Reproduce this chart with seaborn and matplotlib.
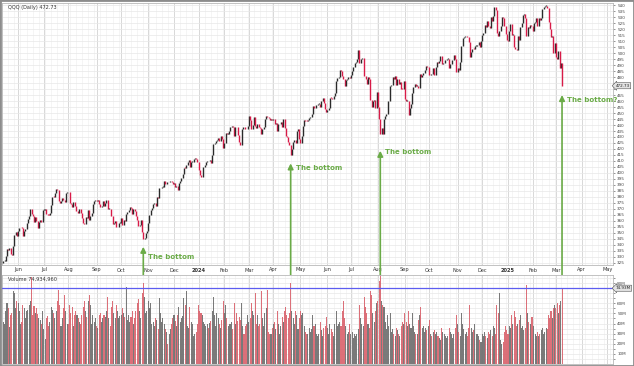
import matplotlib
matplotlib.use("Agg")
import matplotlib.pyplot as plt
import matplotlib.transforms as mtransforms
from matplotlib.patches import Rectangle
import numpy as np
import pandas as pd
import seaborn as sns

# Month axis: trading days per month, starting May 15 2023 (partial month)
month_names = ["May", "Jun", "Jul", "Aug", "Sep", "Oct", "Nov", "Dec",
               "2024", "Feb", "Mar", "Apr", "May", "Jun", "Jul", "Aug", "Sep", "Oct", "Nov", "Dec",
               "2025", "Feb", "Mar", "Apr", "May"]
month_days = [12, 21, 20, 23, 20, 22, 21, 20,
              21, 20, 20, 22, 22, 19, 22, 22, 20, 23, 20, 21,
              20, 19, 21, 21]

first_open = 324.8

# QQQ daily closes
close_2023 = [
    326.6, 326.8, 330.9, 337.0, 335.6, 337.1, 332.8, 331.5, 339.3, 348.4, 350.6, 347.5,
    351.4, 353.9, 354.3, 354.0, 347.2, 351.4, 353.3, 358.6, 361.6, 364.3, 369.7, 366.0, 364.3, 359.0, 363.0, 359.7, 353.8, 359.5, 360.4, 359.2, 369.4,
    369.5, 369.7, 366.1, 365.1, 365.0, 367.0, 373.0, 380.1, 380.0, 383.7, 386.4, 386.0, 376.8, 375.2, 377.0, 379.0, 377.8, 376.0, 383.7, 384.5,
    383.8, 375.0, 374.1, 372.0, 375.6, 372.6, 368.0, 368.6, 366.3, 370.3, 366.3, 362.6, 358.2, 357.8, 363.0, 362.5, 368.8, 360.8, 364.0, 366.8, 374.5, 376.5, 377.6,
    376.9, 377.6, 374.4, 371.8, 372.3, 376.6, 372.8, 374.6, 377.6, 370.0, 370.3, 369.6, 364.3, 357.8, 358.0, 359.6, 354.6, 355.3, 358.2, 358.3,
    362.6, 356.3, 361.1, 360.0, 365.8, 367.5, 369.1, 371.5, 370.6, 365.4, 369.6, 368.6, 364.0, 360.8, 355.5, 356.8, 360.5, 351.2, 344.6, 346.0, 350.0, 351.8,
    358.3, 364.8, 369.3, 370.8, 374.2, 374.8, 372.2, 380.3, 379.3, 387.1, 387.7, 388.6, 388.6, 393.4, 391.0, 392.8, 392.3, 392.3, 393.6, 392.7, 391.0,
    392.0, 388.0, 389.0, 386.0, 391.6, 393.5, 395.5, 399.3, 404.5, 404.4, 406.6, 409.4, 411.2, 404.7, 409.4, 409.5, 411.6, 412.0, 411.5, 409.5,
]
close_2024 = [
    402.6, 398.5, 396.3, 396.9, 405.4, 406.3, 409.1, 410.4, 409.6, 410.9, 408.5, 414.6, 423.8, 425.0, 426.3, 427.7, 429.3, 426.4, 430.7, 428.3, 420.6,
    425.4, 433.1, 432.7, 432.8, 435.1, 438.0, 439.5, 438.4, 431.2, 438.6, 438.0, 431.8, 425.8, 423.6, 436.4, 438.6, 438.0, 436.5, 436.4, 439.0,
    447.1, 444.0, 436.8, 439.7, 446.6, 439.0, 437.4, 441.2, 438.3, 437.7, 432.7, 436.4, 438.5, 444.7, 447.9, 446.9, 445.5, 444.1, 445.1, 444.0,
    444.9, 440.6, 441.9, 435.3, 440.5, 441.0, 442.4, 438.0, 444.6, 437.7, 430.6, 430.2, 425.8, 423.4, 414.7, 419.6, 425.8, 427.3, 424.6, 435.0, 436.7, 428.0,
    425.4, 431.2, 439.3, 444.3, 443.6, 443.3, 444.2, 445.7, 446.7, 449.4, 455.6, 453.8, 453.9, 456.8, 457.6, 457.9, 455.0, 459.9, 462.1, 458.4, 453.4, 450.7,
    452.5, 453.9, 462.8, 462.5, 462.0, 463.9, 466.4, 476.6, 479.0, 480.0, 485.7, 485.3, 481.0, 478.6, 472.2, 477.9, 478.6, 480.1, 479.1,
    481.7, 485.0, 488.4, 492.1, 492.8, 494.8, 502.6, 491.8, 494.8, 495.6, 496.2, 481.1, 478.5, 474.0, 479.7, 478.1, 460.6, 455.0, 460.1, 460.5, 454.2, 467.1,
    455.2, 444.7, 432.7, 437.2, 432.3, 445.0, 447.8, 448.9, 459.8, 460.3, 472.7, 473.5, 480.3, 478.7, 481.0, 473.0, 478.7, 474.4, 475.5, 470.2, 469.9, 476.3,
    461.8, 460.1, 460.2, 448.7, 454.1, 457.6, 467.0, 471.9, 474.1, 472.6, 472.6, 470.7, 482.1, 480.4, 481.3, 483.6, 485.7, 489.1, 488.0, 488.1,
    481.3, 482.4, 482.1, 487.3, 481.7, 488.1, 492.6, 491.9, 493.4, 497.3, 490.6, 491.3, 491.3, 494.5, 495.4, 495.4, 487.4, 491.2, 494.0, 494.4, 498.4, 495.2, 483.9,
    487.4, 486.0, 492.2, 505.6, 512.9, 513.5, 513.8, 514.2, 513.0, 509.0, 496.6, 500.6, 503.5, 503.2, 505.8, 505.8, 506.6, 509.3, 505.3, 509.7,
    515.3, 516.9, 523.3, 521.8, 526.5, 522.4, 520.6, 530.4, 526.5, 530.5, 538.2, 535.8, 516.5, 514.2, 518.7, 522.9, 529.9, 529.6, 522.6, 515.6, 511.2,
]
close_2025 = [
    510.2, 518.6, 524.5, 515.2, 515.3, 505.1, 503.5, 502.4, 514.2, 510.5, 521.7, 524.8, 531.5, 532.6, 529.6, 514.2, 521.8, 520.8, 523.1, 522.3,
    518.1, 524.7, 526.1, 529.5, 522.9, 529.2, 527.8, 529.2, 536.3, 538.2, 539.2, 539.5, 537.2, 526.1, 519.9, 513.3, 514.6, 500.3, 508.2,
    497.1, 495.1, 501.4, 487.2, 491.8, 472.73,
]

# Daily volume, millions of shares
vol_2023 = [
    42, 40, 52, 60, 55, 37, 48, 50, 72, 70, 55, 62,
    60, 52, 40, 42, 58, 55, 45, 52, 53, 58, 62, 86, 48, 57, 50, 55, 49, 45, 44, 40, 52,
    35, 25, 45, 47, 38, 42, 56, 53, 50, 45, 52, 62, 73, 58, 38, 45, 55, 68, 52, 40,
    40, 58, 50, 56, 38, 48, 52, 48, 45, 42, 40, 48, 56, 62, 52, 46, 62, 68, 58, 40, 48, 42, 45,
    38, 36, 48, 50, 42, 45, 48, 46, 52, 66, 45, 38, 56, 62, 50, 45, 58, 52, 45, 47,
    48, 55, 50, 46, 76, 44, 48, 42, 46, 52, 40, 45, 52, 60, 64, 52, 45, 70, 80, 66, 50, 52,
    62, 55, 60, 40, 42, 38, 45, 44, 35, 65, 50, 42, 45, 40, 35, 32, 20, 30, 35, 40, 45,
    48, 43, 38, 48, 56, 42, 45, 47, 65, 58, 72, 38, 36, 56, 42, 40, 28, 30, 32, 40,
]
vol_2024 = [
    58, 52, 50, 48, 42, 40, 38, 40, 36, 41, 43, 52, 66, 48, 38, 50, 45, 40, 36, 44, 62,
    50, 58, 45, 38, 40, 40, 42, 35, 60, 40, 50, 43, 46, 44, 60, 38, 30, 38, 40, 48,
    42, 45, 60, 52, 48, 70, 40, 48, 38, 40, 72, 45, 38, 50, 55, 73, 32, 30, 30, 36,
    40, 42, 35, 52, 40, 30, 38, 46, 42, 52, 56, 48, 45, 50, 80, 52, 45, 40, 52, 48, 35, 45,
    52, 48, 50, 38, 32, 30, 30, 36, 32, 35, 48, 38, 40, 30, 28, 30, 42, 34, 28, 36, 38, 46,
    36, 30, 40, 35, 32, 28, 40, 52, 38, 40, 42, 38, 52, 62, 45, 38, 30, 32, 40,
    30, 32, 26, 30, 28, 30, 35, 58, 45, 40, 38, 66, 56, 50, 40, 36, 72, 68, 50, 42, 52, 60,
    62, 82, 100, 62, 58, 56, 42, 35, 48, 38, 50, 32, 35, 30, 28, 36, 34, 30, 28, 38, 42, 40,
    50, 42, 38, 52, 40, 36, 50, 38, 32, 30, 30, 44, 48, 56, 36, 38, 32, 36, 34, 38,
    44, 30, 28, 32, 34, 30, 32, 28, 26, 24, 36, 32, 30, 28, 26, 28, 36, 32, 30, 26, 30, 36, 48,
    40, 32, 28, 50, 40, 35, 30, 32, 28, 36, 58, 36, 32, 34, 40, 30, 30, 28, 24, 22,
    30, 28, 32, 28, 26, 32, 30, 34, 28, 38, 36, 30, 58, 50, 70, 24, 20, 22, 32, 38, 34,
]
vol_2025 = [
    30, 38, 36, 48, 40, 52, 46, 38, 40, 44, 48, 36, 38, 34, 36, 78, 50, 42, 40, 46,
    46, 38, 30, 28, 32, 28, 30, 34, 36, 30, 32, 36, 35, 48, 45, 52, 45, 55, 58,
    55, 60, 50, 58, 62, 74.93,
]

# Annotations
arrow_day = [114, 234, 307, 455]
arrow_tip = [338.5, 408.0, 418.5, 465.0]
arrow_text = ["The bottom", "The bottom", "The bottom", "The bottom?"]
text_price = [330.0, 404.0, 417.5, 461.0]

last_price = 472.73
last_volume = 74934960

close = np.array(close_2023 + close_2024 + close_2025)
volume = np.array(vol_2023 + vol_2024 + vol_2025) * 1e6
assert len(close) == len(volume), (len(close), len(volume))
opens = np.r_[first_open, close[:-1]]

df = pd.DataFrame({"day": np.arange(len(close)), "open": opens, "close": close, "volume": volume})
df["dir"] = np.where(df["close"] >= df["open"], "up", "down")

UP = "#2a2a2a"
DOWN = "#d81b48"
VOL_UP = "#6c6c6c"
VOL_DOWN = "#d9606b"
GREEN = "#6aab47"

sns.set_style("white")
plt.rcParams["font.family"] = ["DejaVu Sans"]

W, H = 634, 366
fig = plt.figure(figsize=(W / 100, H / 100), dpi=100)
fig.patch.set_facecolor("white")

left, right = 2, 613
ax_p = fig.add_axes([left / W, 1 - 265 / H, (right - left) / W, 262 / H])
ax_v = fig.add_axes([left / W, 1 - 364 / H, (right - left) / W, 89 / H])

starts = np.r_[0, np.cumsum(month_days)]
xlim = (-1.06, 496.5)
weeks = np.arange(-1, xlim[1], 5.0)

for ax in (ax_p, ax_v):
    ax.set_xlim(*xlim)
    ax.set_xticks(starts[1:])
    ax.set_xticks(weeks, minor=True)
    ax.grid(which="major", axis="x", color="#d2d2d2", lw=0.6)
    ax.grid(which="minor", axis="x", color="#eeeeee", lw=0.4)
    ax.set_axisbelow(True)
    for s in ax.spines.values():
        s.set_color("#b8b8b8")
        s.set_linewidth(0.6)
    ax.yaxis.tick_right()
    ax.tick_params(axis="y", which="both", labelsize=3, pad=1.5, length=1.5, width=0.4, colors="#444444")
    ax.tick_params(axis="x", which="both", length=0)

# Price panel: open-close candles
lo = np.minimum(df["open"], df["close"])
hi = np.maximum(df["open"], df["close"])
hi = np.maximum(hi, lo + 0.6)
colors = np.where(df["dir"] == "up", UP, DOWN)
ax_p.vlines(df["day"], lo, hi, colors=colors, lw=1.0, zorder=3)

price_ticks = np.arange(325, 541, 5)
ax_p.set_ylim(323.3, 541.7)
ax_p.set_yticks(price_ticks)
# the last-price box sits over the 470/475 labels
ax_p.set_yticklabels(["" if abs(v - last_price) < 4 else str(v) for v in price_ticks])
ax_p.grid(axis="y", color="#e8e8e8", lw=0.5)
ax_p.set_xticklabels(month_names[1:])
ax_p.tick_params(axis="x", labelsize=3.6, pad=1.8, colors="#333333")
for t in ax_p.get_xticklabels():
    if t.get_text() in ("2024", "2025"):
        t.set_fontweight("bold")

ax_p.text(0.01, 0.992, "QQQ (Daily) 472.73", transform=ax_p.transAxes, fontsize=3.6,
          va="top", ha="left", color="#333333")
trans_p = mtransforms.blended_transform_factory(ax_p.transAxes, ax_p.transData)
ax_p.text(1.004, last_price, f"{last_price:.2f}", transform=trans_p, fontsize=3,
          va="center", ha="left", color="#222222", zorder=10, clip_on=False,
          bbox=dict(boxstyle="larrow,pad=0.25", fc="#e2e2e2", ec="#555555", lw=0.4))

# Arrows and labels
for d, tip, label, ty in zip(arrow_day, arrow_tip, arrow_text, text_price):
    ax_p.annotate("", xy=(d, tip), xytext=(d, 83), textcoords=("data", "figure pixels"),
                  arrowprops=dict(arrowstyle="-|>", color=GREEN, lw=1.2, mutation_scale=8,
                                  shrinkA=0, shrinkB=0),
                  annotation_clip=False, zorder=6)
    ax_p.text(d + 4, ty, label, fontsize=5, fontweight="bold", color=GREEN,
              va="center", ha="left", zorder=6)

# Volume panel
sns.barplot(data=df, x="day", y="volume", hue="dir", palette={"up": VOL_UP, "down": VOL_DOWN},
            native_scale=True, dodge=False, width=0.85, errorbar=None, legend=False,
            saturation=1, linewidth=0, alpha=0.9, ax=ax_v)
vol_ticks = np.arange(10e6, 81e6, 10e6)
ax_v.set_xlim(*xlim)
ax_v.set_ylim(0, 88e6)
ax_v.set_yticks(vol_ticks)
ax_v.set_yticklabels(["" if v == 70e6 else f"{int(v / 1e6)}M" for v in vol_ticks])
ax_v.set_yticks(np.arange(5e6, 86e6, 10e6), minor=True)
ax_v.grid(which="both", axis="y", color="#e8e8e8", lw=0.5)
ax_v.set_xticklabels([])
ax_v.set_xlabel("")
ax_v.set_ylabel("")
ax_v.axhline(last_volume, color="#5c5cf0", lw=0.9, zorder=5)
ax_v.text(0.01, 0.985, "Volume 74,934,960", transform=ax_v.transAxes, fontsize=3.6,
          va="top", ha="left", color="#333333")
trans_v = mtransforms.blended_transform_factory(ax_v.transAxes, ax_v.transData)
ax_v.text(1.004, last_volume, "74.93M", transform=trans_v, fontsize=3,
          va="center", ha="left", color="#222222", zorder=10, clip_on=False,
          bbox=dict(boxstyle="larrow,pad=0.25", fc="#e2e2e2", ec="#555555", lw=0.4))

# Outer frame
fig.patches.append(Rectangle((0, 0), 1, 1, transform=fig.transFigure, fill=False,
                             ec="#8c8c8c", lw=2.0))

fig.savefig("out.png", dpi=100, facecolor="white")
